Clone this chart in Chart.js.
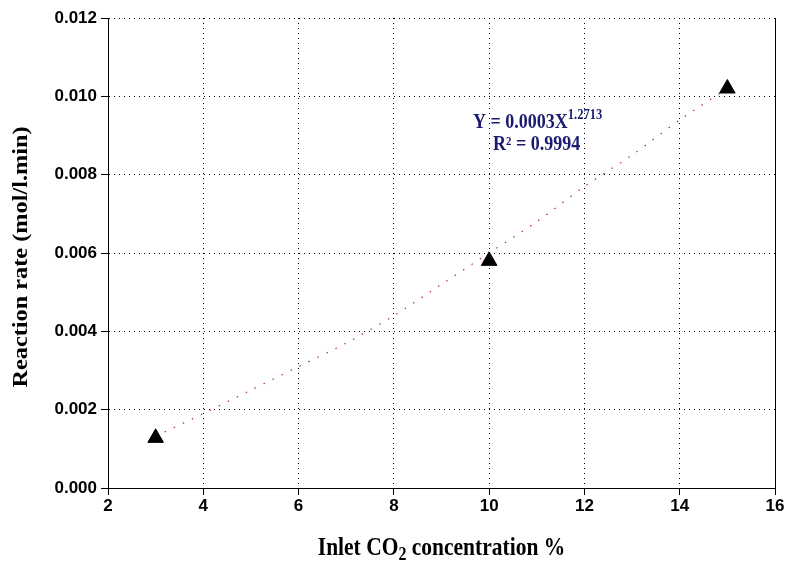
<!DOCTYPE html>
<html>
<head>
<meta charset="utf-8">
<script src="https://cdn.jsdelivr.net/npm/chart.js@4"></script>
<style>
  html, body { margin: 0; padding: 0; background: #fff; }
  #wrap { width: 789px; height: 570px; }
</style>
</head>
<body>
<div id="wrap"><canvas id="grafico" width="789" height="570"></canvas></div>
<script>
// ========= Dados =========
// concentração de CO2 na entrada (%)
const co2 = [3, 10, 15];
// taxa de reação medida (mol/l.min)
const taxa = [0.00128, 0.0058, 0.0102];

// linha de tendência
const tendX = [3, 4, 5, 6, 7, 8, 9, 10, 11, 12, 13, 14, 15];
const tendY = [0.00132, 0.0019, 0.0025, 0.0031, 0.0037, 0.0044, 0.0052, 0.006, 0.0068, 0.0077, 0.0085, 0.0094, 0.0102];

// eixos
const xMin = 2, xMax = 16, xPasso = 2;
const yMin = 0, yMax = 0.012, yPasso = 0.002;

// textos
const tituloX = ["Inlet CO", "2", " concentration %"];
const tituloY = "Reaction rate (mol/l.min)";
const equacao = ["Y = 0.0003X", "1.2713"];
const r2 = "R\u00B2 = 0.9994";

// fator de "esticamento" vertical do texto (a figura original é mais alta)
const estica = 1.13;
const serif = "'Liberation Serif', 'Times New Roman', serif";

// ========= Plugin: títulos, equação e borda direita =========
const extras = {
  id: "extras",
  afterDraw(chart) {
    const ctx = chart.ctx;
    const a = chart.chartArea;
    ctx.save();

    // borda direita sólida
    ctx.strokeStyle = "#000";
    ctx.lineWidth = 1;
    ctx.beginPath();
    ctx.moveTo(Math.round(a.right) + 0.5, a.top);
    ctx.lineTo(Math.round(a.right) + 0.5, a.bottom);
    ctx.stroke();

    // título do eixo X com subscrito
    const fT = `bold 21.5px ${serif}`;
    const fS = `bold 16px ${serif}`;
    ctx.fillStyle = "#000";
    ctx.textBaseline = "alphabetic";
    ctx.textAlign = "left";
    ctx.font = fT;
    const w1 = ctx.measureText(tituloX[0]).width;
    const w3 = ctx.measureText(tituloX[2]).width;
    ctx.font = fS;
    const w2 = ctx.measureText(tituloX[1]).width;
    const cx = (a.left + a.right) / 2;
    let x = cx - (w1 + w2 + w3) / 2;
    ctx.save();
    ctx.translate(0, 555);
    ctx.scale(1, estica);
    ctx.font = fT;
    ctx.fillText(tituloX[0], x, 0);
    x += w1;
    ctx.font = fS;
    ctx.fillText(tituloX[1], x, 4);
    x += w2;
    ctx.font = fT;
    ctx.fillText(tituloX[2], x, 0);
    ctx.restore();

    // título do eixo Y (rotacionado)
    ctx.save();
    ctx.translate(27, (a.top + a.bottom) / 2 + 4);
    ctx.rotate(-Math.PI / 2);
    ctx.scale(estica, 1);
    ctx.textAlign = "center";
    ctx.font = fT;
    ctx.fillText(tituloY, 0, 0);
    ctx.restore();

    // equação da tendência
    ctx.fillStyle = "#1a1a70";
    ctx.textAlign = "left";
    ctx.save();
    ctx.translate(473, 128);
    ctx.scale(1, estica);
    ctx.font = `bold 18px ${serif}`;
    ctx.fillText(equacao[0], 0, 0);
    const we = ctx.measureText(equacao[0]).width;
    ctx.font = `bold 12.5px ${serif}`;
    ctx.fillText(equacao[1], we, -8);
    ctx.restore();

    ctx.save();
    ctx.translate(493, 150);
    ctx.scale(1, estica);
    ctx.font = `bold 18px ${serif}`;
    ctx.fillText(r2, 0, 0);
    ctx.restore();

    ctx.restore();
  },
};

// ========= Configuração Chart.js =========
const fonteTicks = { family: "'Liberation Sans', Arial, sans-serif", size: 17, weight: "bold" };

new Chart(document.getElementById("grafico"), {
  type: "scatter",
  data: {
    datasets: [
      {
        label: "Dados",
        data: co2.map((v, i) => ({ x: v, y: taxa[i] })),
        pointStyle: "triangle",
        pointRadius: 9,
        pointHoverRadius: 9,
        backgroundColor: "#000",
        borderColor: "#000",
        borderWidth: 1,
        showLine: false,
      },
      {
        label: "Tendência",
        type: "line",
        data: tendX.map((v, i) => ({ x: v, y: tendY[i] })),
        borderColor: "#b03040",
        borderWidth: 1.2,
        borderDash: [1.5, 8.5],
        pointRadius: 0,
        fill: false,
        tension: 0.3,
      },
    ],
  },
  options: {
    responsive: false,
    animation: false,
    layout: { padding: { left: 0, top: 18, right: 14, bottom: 0 } },
    plugins: { legend: { display: false }, tooltip: { enabled: false } },
    scales: {
      x: {
        type: "linear",
        min: xMin,
        max: xMax,
        ticks: { stepSize: xPasso, color: "#000", font: fonteTicks, padding: 1 },
        grid: { color: "#000", lineWidth: 1, tickLength: 7, tickColor: "#000" },
        border: { display: true, color: "#000", width: 1, dash: [1, 4] },
        afterFit: (s) => { s.height = 82; },
      },
      y: {
        min: yMin,
        max: yMax,
        ticks: {
          stepSize: yPasso,
          color: "#000",
          font: fonteTicks,
          padding: 4,
          callback: (v) => v.toFixed(3),
        },
        grid: { color: "#000", lineWidth: 1, tickLength: 7, tickColor: "#000" },
        border: { display: true, color: "#000", width: 1, dash: [1, 4] },
        afterFit: (s) => { s.width = 108; },
      },
    },
  },
  plugins: [extras],
});
</script>
</body>
</html>
